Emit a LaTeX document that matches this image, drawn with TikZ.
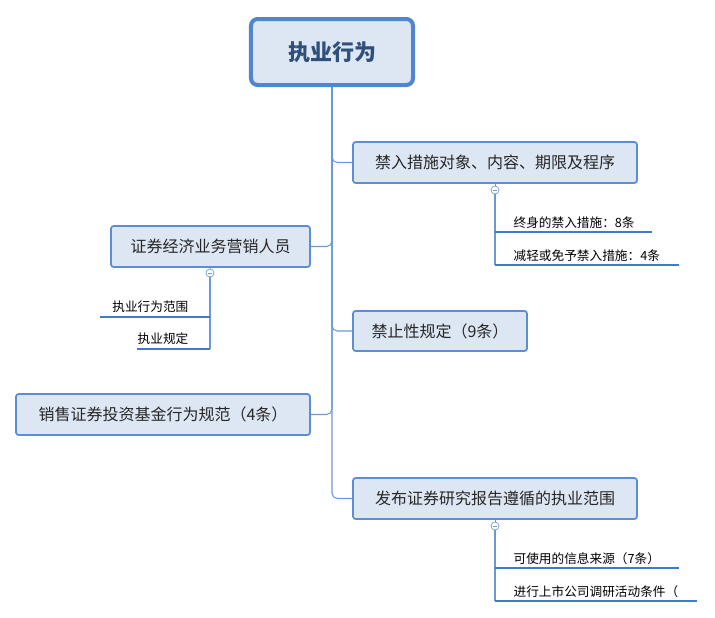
\documentclass[tikz,border=0pt]{standalone}
\usepackage{fontspec}
\setmainfont{Noto Sans CJK SC}
\begin{document}
\begin{tikzpicture}[x=0.75pt,y=-0.75pt,
  lc/.style={draw=lineblue,line width=0.8pt,rounded corners=4pt},
  topic/.style={draw=boxblue,fill=boxfill,line width=1.3pt,rounded corners=2pt,inner sep=0pt,font=\fontsize{12}{14}\selectfont,text=black!85},
  sub/.style={anchor=south west,inner sep=1pt,font=\fontsize{9.5}{11}\selectfont,text=black},
  ul/.style={draw=ulblue,line width=1.5pt},
  col/.style={circle,draw=lineblue,fill=white,inner sep=0pt,minimum size=6pt,line width=0.5pt}]
\definecolor{lineblue}{HTML}{6E98D2}
\definecolor{boxblue}{HTML}{5B8ED2}
\definecolor{boxfill}{HTML}{DDE7F3}
\definecolor{ulblue}{HTML}{3F7BCB}
\definecolor{rootblue}{HTML}{4F86CE}
\useasboundingbox (0,0) rectangle (715,618);
% root
\node[draw=rootblue,fill=boxfill,line width=3pt,rounded corners=5pt,minimum width=162pt*0.75/0.75*0.75,minimum height=66*0.75pt,font=\fontsize{16.5}{18}\selectfont\bfseries,text=rootblue!60!black] (root) at (332,52) {执业行为};
% right topics
\node[topic,minimum width=284*0.75pt,minimum height=41*0.75pt] (r1) at (495,162.5) {禁入措施对象、内容、期限及程序};
\node[topic,minimum width=174*0.75pt,minimum height=40*0.75pt] (r2) at (440,331) {禁止性规定（9条）};
\node[topic,minimum width=284*0.75pt,minimum height=41*0.75pt] (r3) at (495,498.5) {发布证券研究报告遵循的执业范围};
% left topics
\node[topic,minimum width=199*0.75pt,minimum height=41*0.75pt] (l1) at (210.5,246.5) {证券经济业务营销人员};
\node[topic,minimum width=294*0.75pt,minimum height=41*0.75pt] (l2) at (163,414.5) {销售证券投资基金行为规范（4条）};
% trunk connectors
\draw[lc] (root.south) |- (r1.west);
\draw[lc] (root.south) |- (r2.west);
\draw[lc] (root.south) |- (r3.west);
\draw[lc] (root.south) |- (l1.east);
\draw[lc] (root.south) |- (l2.east);
% sub items of r1
\coordinate (a1) at (495,232); \coordinate (a1e) at (652,232);
\coordinate (a2) at (495,265); \coordinate (a2e) at (679,265);
\node[col] (c1) at (495,190) {};
\draw[lineblue,line width=0.5pt] (r1.south) -- (c1.north);
\draw[lc] (c1.south) |- (a1);
\draw[lc] (c1.south) |- (a2);
\draw[ul] (a1) -- (a1e); \draw[ul] (a2) -- (a2e);
\node[sub] (s1) at (512,230) {终身的禁入措施：8条};
\node[sub] (s2) at (512,263) {减轻或免予禁入措施：4条};
% sub items of l1
\coordinate (b1) at (210,317); \coordinate (b1e) at (100,317);
\coordinate (b2) at (210,349); \coordinate (b2e) at (137,349);
\node[col] (c2) at (210,273) {};
\draw[lineblue,line width=0.5pt] (l1.south) -- (c2.north);
\draw[lc] (c2.south) |- (b1);
\draw[lc] (c2.south) |- (b2);
\draw[ul] (b1) -- (b1e); \draw[ul] (b2) -- (b2e);
\node[sub,anchor=south east] (t1) at (190,314) {执业行为范围};
\node[sub,anchor=south east] (t2) at (190,346) {执业规定};
% sub items of r3
\coordinate (d1) at (495,568); \coordinate (d1e) at (679,568);
\coordinate (d2) at (495,601); \coordinate (d2e) at (697,601);
\node[col] (c3) at (495,526) {};
\draw[lineblue,line width=0.5pt] (r3.south) -- (c3.north);
\draw[lc] (c3.south) |- (d1);
\draw[lc] (c3.south) |- (d2);
\draw[ul] (d1) -- (d1e); \draw[ul] (d2) -- (d2e);
\node[sub] (u1) at (512,566) {可使用的信息来源（7条）};
\node[sub] (u2) at (512,599) {进行上市公司调研活动条件（};
% minus signs
\foreach \c in {c1,c2,c3} \draw[lineblue,line width=0.5pt] ([xshift=-1.8pt]\c.center) -- ([xshift=1.8pt]\c.center);
\end{tikzpicture}
\end{document}
